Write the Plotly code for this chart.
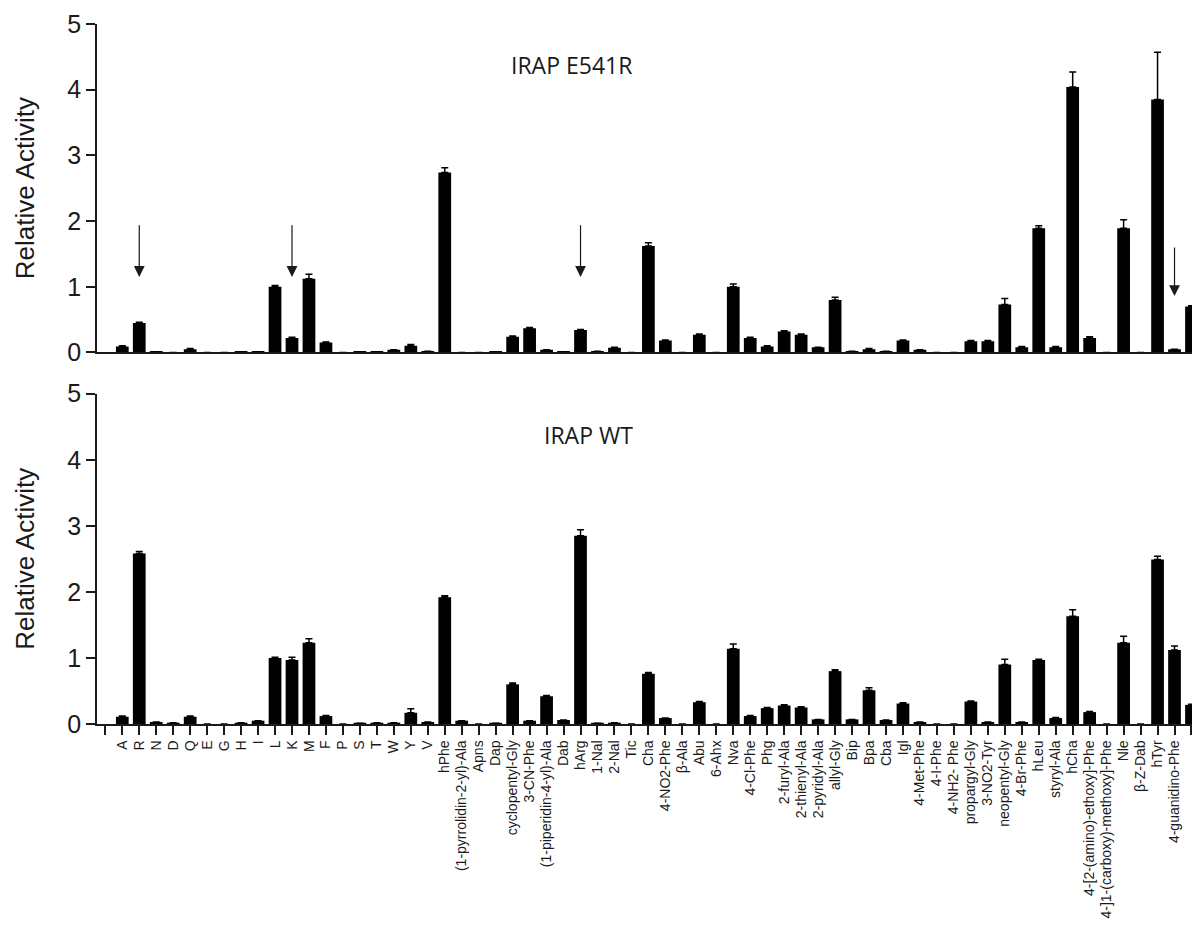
import plotly.graph_objects as go

categories = ["A", "R", "N", "D", "Q", "E", "G", "H", "I", "L", "K", "M", "F", "P", "S", "T", "W", "Y", "V",
              "hPhe", "(1-pyrrolidin-2-yl)-Ala", "Apns", "Dap", "cyclopentyl-Gly", "3-CN-Phe",
              "(1-piperidin-4-yl)-Ala", "Dab", "hArg", "1-Nal", "2-Nal", "Tic", "Cha", "4-NO2-Phe", "β-Ala",
              "Abu", "6-Ahx", "Nva", "4-Cl-Phe", "Phg", "2-furyl-Ala", "2-thienyl-Ala", "2-pyridyl-Ala",
              "allyl-Gly", "Bip", "Bpa", "Cba", "Igl", "4-Met-Phe", "4-I-Phe", "4-NH2- Phe", "propargyl-Gly",
              "3-NO2-Tyr", "neopentyl-Gly", "4-Br-Phe", "hLeu", "styryl-Ala", "hCha",
              "4-[2-(amino)-ethoxy]-Phe", "4-]1-(carboxy)-methoxy]-Phe", "Nle", "β-Z-Dab", "hTyr",
              "4-guanidino-Phe", "dhTrp"]

e541r_values = [0.09, 0.45, 0.01, 0.0, 0.05, 0.0, 0.0, 0.01, 0.01, 1.00, 0.22, 1.12, 0.15, 0.0, 0.01, 0.01,
                0.04, 0.10, 0.02, 2.74, 0.0, 0.0, 0.01, 0.24, 0.37, 0.04, 0.01, 0.34, 0.02, 0.07, 0.0, 1.62,
                0.18, 0.0, 0.27, 0.0, 1.00, 0.22, 0.09, 0.32, 0.27, 0.08, 0.80, 0.02, 0.05, 0.02, 0.18, 0.04,
                0.0, 0.0, 0.17, 0.17, 0.73, 0.08, 1.89, 0.08, 4.04, 0.22, 0.0, 1.89, 0.0, 3.85, 0.05, 0.70]
e541r_errors = [0.01, 0.01, 0.0, 0.0, 0.01, 0.0, 0.0, 0.0, 0.0, 0.02, 0.01, 0.07, 0.01, 0.0, 0.0, 0.0,
                0.0, 0.02, 0.0, 0.07, 0.0, 0.0, 0.0, 0.01, 0.01, 0.0, 0.0, 0.01, 0.0, 0.01, 0.0, 0.05,
                0.01, 0.0, 0.01, 0.0, 0.04, 0.01, 0.01, 0.01, 0.01, 0.0, 0.04, 0.0, 0.01, 0.0, 0.01, 0.0,
                0.0, 0.0, 0.01, 0.01, 0.09, 0.01, 0.04, 0.01, 0.23, 0.02, 0.0, 0.13, 0.0, 0.72, 0.0, 0.01]

wt_values = [0.11, 2.58, 0.03, 0.02, 0.11, 0.0, 0.0, 0.02, 0.05, 1.00, 0.97, 1.23, 0.12, 0.0, 0.01, 0.02,
             0.02, 0.17, 0.03, 1.92, 0.05, 0.0, 0.01, 0.60, 0.05, 0.42, 0.06, 2.85, 0.01, 0.02, 0.0, 0.76,
             0.09, 0.0, 0.33, 0.0, 1.14, 0.12, 0.24, 0.28, 0.25, 0.07, 0.80, 0.07, 0.51, 0.06, 0.31, 0.03,
             0.0, 0.0, 0.34, 0.03, 0.90, 0.03, 0.97, 0.09, 1.63, 0.18, 0.0, 1.23, 0.0, 2.49, 1.12, 0.29]
wt_errors = [0.01, 0.03, 0.0, 0.0, 0.01, 0.0, 0.0, 0.0, 0.0, 0.01, 0.04, 0.06, 0.01, 0.0, 0.0, 0.0,
             0.0, 0.06, 0.0, 0.02, 0.0, 0.0, 0.0, 0.02, 0.0, 0.01, 0.0, 0.09, 0.0, 0.0, 0.0, 0.02,
             0.0, 0.0, 0.01, 0.0, 0.07, 0.01, 0.01, 0.01, 0.01, 0.0, 0.02, 0.0, 0.04, 0.0, 0.01, 0.0,
             0.0, 0.0, 0.01, 0.0, 0.08, 0.0, 0.01, 0.01, 0.10, 0.01, 0.0, 0.10, 0.0, 0.05, 0.06, 0.01]

arrow_targets = ["R", "K", "hArg", "4-guanidino-Phe"]
arrow_tops = [1.96, 1.96, 1.96, 1.62]
arrow_tips = [1.15, 1.15, 1.15, 0.86]

y_ticks = [0, 1, 2, 3, 4, 5]

positions = list(range(1, len(categories) + 1))
tick_positions = [0] + positions
tick_text = [""] + categories

FONT = "Liberation Sans, Arial, sans-serif"
INK = "#1a1a1a"

fig = go.Figure()

for vals, errs, xa, ya in [(e541r_values, e541r_errors, "x", "y"), (wt_values, wt_errors, "x2", "y2")]:
    fig.add_trace(go.Bar(
        x=positions, y=vals, width=0.75, xaxis=xa, yaxis=ya,
        marker=dict(color="black", line=dict(width=0)),
        error_y=dict(type="data", array=errs, arrayminus=[0] * len(errs), symmetric=False,
                     color="black", thickness=1.5, width=3.5),
        showlegend=False, hoverinfo="x+y",
    ))

xrange = [-0.49, 64.03]
axis_common = dict(showgrid=False, zeroline=False, showline=True, linecolor=INK, linewidth=1.5)

fig.update_layout(
    width=1192, height=931,
    margin=dict(l=97, r=0, t=24, b=206.5),
    paper_bgcolor="white", plot_bgcolor="white",
    bargap=0.25,
    xaxis=dict(domain=[0, 1], range=xrange, anchor="y", showticklabels=False, ticks="", **axis_common),
    yaxis=dict(domain=[0.5308, 1.0], range=[0, 5], anchor="x", tickvals=y_ticks, ticks="outside",
               ticklen=9, tickwidth=1.5, tickcolor=INK,
               tickfont=dict(family=FONT, size=25, color=INK), **axis_common),
    xaxis2=dict(domain=[0, 1], range=xrange, anchor="y2", tickmode="array", tickvals=tick_positions,
                ticktext=tick_text, tickangle=-90, ticks="outside", ticklen=9, tickwidth=1.5, tickcolor=INK,
                tickfont=dict(family=FONT, size=14, color=INK), automargin=False, **axis_common),
    yaxis2=dict(domain=[0.0, 0.4718], range=[0, 5], anchor="x2", tickvals=y_ticks, ticks="outside",
                ticklen=9, tickwidth=1.5, tickcolor=INK,
                tickfont=dict(family=FONT, size=25, color=INK), **axis_common),
)

# y-axis titles
for yc in [(0.5308 + 1.0) / 2, 0.4718 / 2]:
    fig.add_annotation(text="Relative Activity", xref="paper", yref="paper", x=-0.0658, y=yc,
                       textangle=-90, showarrow=False, xanchor="center", yanchor="middle",
                       font=dict(family=FONT, size=26, color=INK))

# panel titles
fig.add_annotation(text="IRAP E541R", xref="paper", yref="paper", x=0.4329, y=0.9415, showarrow=False,
                   xanchor="center", yanchor="middle", font=dict(family="Open Sans", size=23, color=INK))
fig.add_annotation(text="IRAP WT", xref="paper", yref="paper", x=0.4489, y=0.4133, showarrow=False,
                   xanchor="center", yanchor="middle", font=dict(family="Open Sans", size=23, color=INK))

# arrows in top panel
for name, top, tip in zip(arrow_targets, arrow_tops, arrow_tips):
    xp = categories.index(name) + 1
    fig.add_annotation(x=xp, y=tip, ax=xp, ay=top, xref="x", yref="y", axref="x", ayref="y",
                       text="", showarrow=True, arrowhead=2, arrowsize=1.8, arrowwidth=1.2,
                       arrowcolor=INK, standoff=0)

fig.write_html("out.html", config={"displayModeBar": False},
               post_script="document.body.style.margin='0';document.body.style.overflow='hidden';")
